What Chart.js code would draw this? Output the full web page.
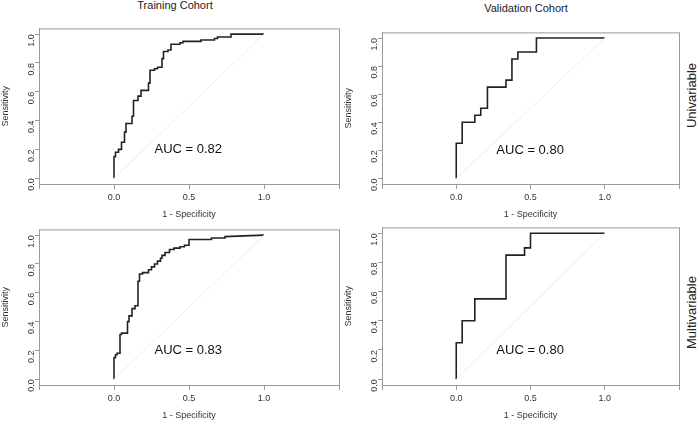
<!DOCTYPE html>
<html>
<head>
<meta charset="utf-8">
<script src="https://cdn.jsdelivr.net/npm/chart.js@4.4.0/dist/chart.umd.min.js"></script>
<style>
  body { margin:0; background:#fff; font-family:"Liberation Sans", Arial, sans-serif; }
  .wrap { position:relative; width:700px; height:423px; }
  .box { position:absolute; }
  .lbl { position:absolute; font-size:11px; color:#222; }
  .row { position:absolute; font-size:13px; color:#222; transform:rotate(-90deg); transform-origin:center; white-space:nowrap; }
</style>
</head>
<body>
<div class="wrap">
  <div class="lbl" style="left:130px;top:-1px;width:90px;text-align:center">Training Cohort</div>
  <div class="lbl" style="left:476px;top:2px;width:100px;text-align:center">Validation Cohort</div>
  <div class="row" style="left:651px;top:88px;width:80px;text-align:center">Univariable</div>
  <div class="row" style="left:646px;top:305px;width:90px;text-align:center">Multivariable</div>
  <div class="box" style="left:0;top:20px;width:345px;height:202px"><canvas id="c1"></canvas></div>
  <div class="box" style="left:343px;top:24px;width:342px;height:198px"><canvas id="c2"></canvas></div>
  <div class="box" style="left:0;top:221px;width:345px;height:202px"><canvas id="c3"></canvas></div>
  <div class="box" style="left:343px;top:219px;width:342px;height:204px"><canvas id="c4"></canvas></div>
</div>
<script>
// training cohort, univariable
var trainUniFpr = [0,0,0.01,0.01,0.03,0.03,0.05,0.05,0.07,0.07,0.08,0.08,0.12,0.12,0.13,0.13,0.16,0.16,0.18,0.18,0.23,0.23,0.24,0.24,0.27,0.27,0.29,0.29,0.32,0.32,0.33,0.33,0.36,0.36,0.38,0.38,0.42,0.42,0.44,0.44,0.46,0.46,0.55,0.55,0.58,0.58,0.67,0.67,0.69,0.69,0.78,0.78,1];
var trainUniTpr = [0,0.15,0.15,0.18,0.18,0.2,0.2,0.25,0.25,0.32,0.32,0.38,0.38,0.43,0.43,0.54,0.54,0.57,0.57,0.61,0.61,0.66,0.66,0.75,0.75,0.76,0.76,0.77,0.77,0.83,0.83,0.88,0.88,0.89,0.89,0.93,0.93,0.93,0.93,0.94,0.94,0.95,0.95,0.95,0.95,0.96,0.96,0.97,0.97,0.98,0.98,1,1];
// validation cohort, univariable
var validUniFpr = [0,0,0.04,0.04,0.125,0.125,0.165,0.165,0.21,0.21,0.335,0.335,0.375,0.375,0.415,0.415,0.54,0.54,1];
var validUniTpr = [0,0.25,0.25,0.4,0.4,0.45,0.45,0.5,0.5,0.65,0.65,0.7,0.7,0.85,0.85,0.9,0.9,1,1];
// training cohort, multivariable
var trainMultiFpr = [0,0,0.01,0.01,0.02,0.02,0.04,0.04,0.05,0.05,0.09,0.09,0.1,0.1,0.12,0.12,0.14,0.14,0.16,0.16,0.17,0.17,0.19,0.19,0.23,0.23,0.25,0.25,0.27,0.27,0.29,0.29,0.31,0.31,0.32,0.32,0.34,0.34,0.37,0.37,0.4,0.4,0.44,0.44,0.47,0.47,0.5,0.5,0.65,0.65,0.74,0.74,1];
var trainMultiTpr = [0,0.15,0.15,0.17,0.17,0.18,0.18,0.31,0.31,0.32,0.32,0.4,0.4,0.44,0.44,0.49,0.49,0.51,0.51,0.68,0.68,0.73,0.73,0.74,0.74,0.76,0.76,0.78,0.78,0.8,0.8,0.82,0.82,0.84,0.84,0.86,0.86,0.88,0.88,0.9,0.9,0.91,0.91,0.92,0.92,0.93,0.93,0.97,0.97,0.98,0.98,0.99,1];
// validation cohort, multivariable
var validMultiFpr = [0,0,0.04,0.04,0.125,0.125,0.335,0.335,0.46,0.46,0.5,0.5,1];
var validMultiTpr = [0,0.25,0.25,0.4,0.4,0.55,0.55,0.85,0.85,0.9,0.9,1,1];

var aucLabels = ["AUC = 0.82", "AUC = 0.80", "AUC = 0.83", "AUC = 0.80"];
var xTicks = [-0.5, 0, 0.5, 1, 1.5];
var yTicks = [0, 0.2, 0.4, 0.6, 0.8, 1];

var FONT = "'Liberation Sans', Arial, sans-serif";

function pts(xs, ys) {
  var out = [];
  for (var i = 0; i < xs.length; i++) out.push({x: xs[i], y: ys[i]});
  return out;
}

var boxPlugin = {
  id: 'boxPlugin',
  afterDraw: function(chart) {
    var a = chart.chartArea, ctx = chart.ctx;
    ctx.save();
    ctx.strokeStyle = '#999';
    ctx.lineWidth = 1;
    ctx.strokeRect(a.left + 0.5, a.top + 0.5, a.right - a.left, a.bottom - a.top);
    ctx.fillStyle = '#111';
    ctx.font = '13px ' + FONT;
    ctx.textAlign = 'left';
    ctx.textBaseline = 'middle';
    var xs = chart.scales.x, ys = chart.scales.y;
    ctx.fillText(chart.options.plugins.aucText, xs.getPixelForValue(0.27), ys.getPixelForValue(0.2));
    ctx.restore();
  }
};

function makeChart(id, xs, ys, auc, padTop) {
  new Chart(document.getElementById(id), {
    type: 'scatter',
    data: {
      datasets: [
        { data: pts([0, 1], [0, 1]), showLine: true, borderColor: '#ececec', borderWidth: 1, pointRadius: 0 },
        { data: pts(xs, ys), showLine: true, borderColor: '#222', borderWidth: 1.6, pointRadius: 0, tension: 0 }
      ]
    },
    options: {
      responsive: true,
      maintainAspectRatio: false,
      animation: false,
      layout: { padding: { top: padTop, right: 6, left: 0, bottom: 0 } },
      plugins: { legend: { display: false }, tooltip: { enabled: false }, aucText: auc },
      scales: {
        x: {
          type: 'linear', min: -0.5, max: 1.5,
          afterBuildTicks: function(s) { s.ticks = xTicks.map(function(v) { return {value: v}; }); },
          afterFit: function(s) { s.height = 38; },
          border: { color: '#999' },
          grid: { drawOnChartArea: false, tickLength: 5, color: '#999' },
          ticks: { font: { size: 9, family: FONT }, color: '#333', maxRotation: 0,
                   callback: function(v) { return (v < 0 || v > 1) ? '' : v.toFixed(1); } },
          title: { display: true, text: '1 - Specificity', font: { size: 9, family: FONT }, color: '#333', padding: 2 }
        },
        y: {
          type: 'linear', min: -0.04, max: 1.04,
          afterBuildTicks: function(s) { s.ticks = yTicks.map(function(v) { return {value: v}; }); },
          afterFit: function(s) { s.width = 39; },
          border: { color: '#999' },
          grid: { drawOnChartArea: false, tickLength: 4, color: '#999' },
          ticks: { font: { size: 9, family: FONT }, color: '#333', minRotation: 90, maxRotation: 90,
                   callback: function(v) { return v.toFixed(1); } },
          title: { display: true, text: 'Sensitivity', font: { size: 9, family: FONT }, color: '#333', padding: 0 }
        }
      }
    },
    plugins: [boxPlugin]
  });
}

makeChart('c1', trainUniFpr, trainUniTpr, aucLabels[0], 4);
makeChart('c2', validUniFpr, validUniTpr, aucLabels[1], 4);
makeChart('c3', trainMultiFpr, trainMultiTpr, aucLabels[2], 4);
makeChart('c4', validMultiFpr, validMultiTpr, aucLabels[3], 4);
</script>
</body>
</html>
